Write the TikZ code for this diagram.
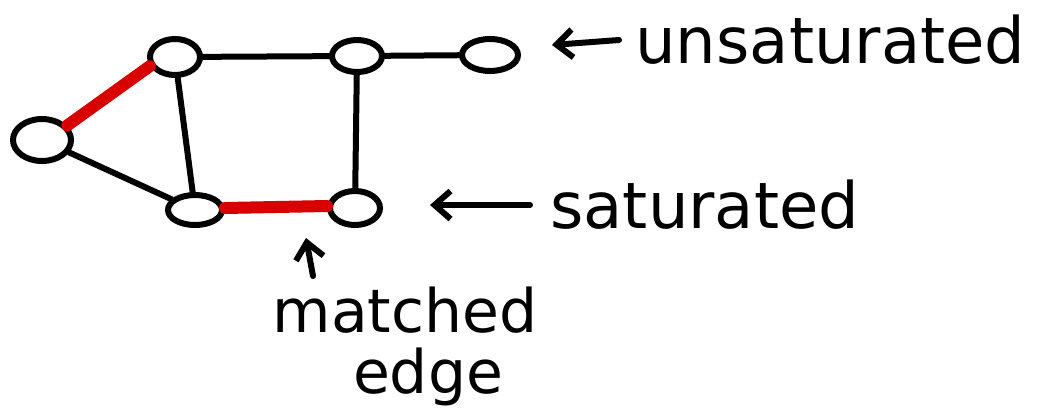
\documentclass[tikz,border=0pt]{standalone}
\usepackage{fontspec}
\setmainfont{DejaVu Sans}
\usetikzlibrary{shapes.geometric,arrows.meta}
\begin{document}
\begin{tikzpicture}[x=0.5pt,y=-0.5pt,
  vtx/.style={draw=black,line width=3pt,ellipse,inner sep=0pt},
  edge/.style={draw=black,line width=3pt,line cap=round},
  matched/.style={draw=red!85!black,line width=6pt,line cap=round},
  pointer/.style={draw=black,line width=3pt,line cap=round,-{Straight Barb[length=8pt,width=14pt,line width=3pt]}},
  lbl/.style={font=\fontsize{30}{32}\selectfont,inner sep=0pt,anchor=west},
  biglbl/.style={lbl,font=\fontsize{32}{34}\selectfont}]
\useasboundingbox (0,0) rectangle (1055,408);
\node[vtx,minimum width=29pt,minimum height=21pt] (A) at (42,140) {};
\node[vtx,minimum width=25pt,minimum height=18pt] (B) at (175,57) {};
\node[vtx,minimum width=25pt,minimum height=16pt] (C) at (357,56) {};
\node[vtx,minimum width=28pt,minimum height=16pt] (D) at (490,55) {};
\node[vtx,minimum width=27pt,minimum height=15pt] (E) at (195,210) {};
\node[vtx,minimum width=25pt,minimum height=17pt] (F) at (355,208) {};
\draw[edge] (A) -- (E);
\draw[edge] (B) -- (C);
\draw[edge] (B) -- (E);
\draw[edge] (C) -- (D);
\draw[edge] (C) -- (F);
\draw[edge] (E) -- (F);
\draw[matched] (A.30) -- (B.200);
\draw[matched] ([yshift=1pt]E.east) -- ([yshift=1pt]F.west);
\node[biglbl] (u) at (635,40) {unsaturated};
\node[biglbl] (s) at (550,205) {saturated};
\node[lbl,anchor=center] (m) at (405,310) {matched};
\node[lbl,anchor=center] (g) at (428,377) {edge};
\coordinate (ut) at (552,45);
\coordinate (st) at (430,205);
\coordinate (mt) at (306,238);
\coordinate (mf) at (313,276);
\draw[pointer] ([xshift=-8pt]u.west) -- (ut);
\draw[pointer] ([xshift=-10pt]s.west) -- (st);
\draw[pointer] (mf) -- (mt);
\end{tikzpicture}
\end{document}
